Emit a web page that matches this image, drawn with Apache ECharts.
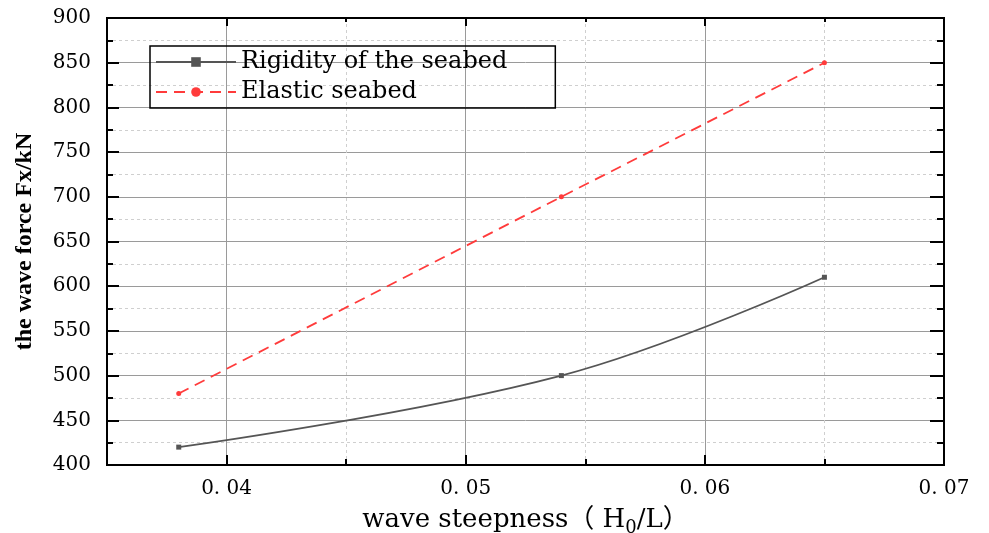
<!DOCTYPE html>
<html>
<head>
<meta charset="utf-8">
<script src="https://cdn.jsdelivr.net/npm/echarts@6/dist/echarts.min.js"></script>
<style>html,body{margin:0;padding:0;background:#fff}#c{width:989px;height:533px}</style>
</head>
<body>
<div id="c"></div>
<script>
const steepness = [0.038, 0.054, 0.065];
const rigidityForce = [420, 500, 610];
const elasticForce = [480, 700, 850];
const xTickValues = [0.04, 0.05, 0.06, 0.07];
const xTickLabels = ['0. 04', '0. 05', '0. 06', '0. 07'];
const seriesNames = ['Rigidity of the seabed', 'Elastic seabed'];

const FONT = '"DejaVu Serif", "Liberation Serif", "Noto Sans CJK SC", serif';
const chart = echarts.init(document.getElementById('c'));

function xLabel(v) {
  for (let i = 0; i < xTickValues.length; i++) {
    if (Math.abs(v - xTickValues[i]) < 1e-9) return xTickLabels[i];
  }
  return '';
}

// grid 1 spans one extra half-interval to the left so its ticks land on 0.04, 0.05 ...
const L = 107, R = 45, T = 18, B = 68;
const plotW = 989 - L - R;
const extraLeft = plotW / 7; // 0.005 of a 0.035-wide range

chart.setOption({
  animation: false,
  backgroundColor: '#fff',
  grid: [
    { left: L, right: R, top: T, bottom: B, show: true, borderColor: '#000', borderWidth: 2,
      backgroundColor: 'transparent', z: 3, containLabel: false, outerBoundsMode: 'none' },
    { left: L - extraLeft, right: R, top: T, bottom: B, containLabel: false, outerBoundsMode: 'none' }
  ],
  legend: {
    orient: 'vertical',
    left: 150, top: 46,
    borderColor: '#000', borderWidth: 1.5,
    padding: [3, 48, 3, 5],
    itemGap: 4,
    itemWidth: 80, itemHeight: 12,
    textStyle: { fontFamily: FONT, fontSize: 24, color: '#000', lineHeight: 26 },
    data: seriesNames
  },
  xAxis: [
    { type: 'value', gridIndex: 0, min: 0.035, max: 0.07,
      axisLine: { show: false }, axisTick: { show: false }, axisLabel: { show: false }, splitLine: { show: false },
      name: 'wave steepness（ H{sub|0}/L）',
      nameLocation: 'middle', nameGap: 38,
      nameTextStyle: { fontFamily: FONT, fontSize: 26, color: '#000', lineHeight: 34,
        rich: { sub: { fontFamily: FONT, fontSize: 18, lineHeight: 18, verticalAlign: 'bottom', color: '#000' } } }
    },
    { type: 'value', gridIndex: 1, position: 'bottom', min: 0.03, max: 0.07, interval: 0.01,
      axisLine: { show: false },
      axisTick: { inside: true, length: 10, lineStyle: { color: '#000', width: 2 } },
      minorTick: { show: true, splitNumber: 2, length: 6, lineStyle: { color: '#000', width: 2 } },
      axisLabel: { formatter: xLabel, margin: 14, fontFamily: FONT, fontSize: 20, color: '#000' },
      splitLine: { show: true, lineStyle: { color: '#9a9a9a', width: 1 } },
      minorSplitLine: { show: true, lineStyle: { color: '#cfcfcf', width: 1, type: [3, 3] } }
    },
    { type: 'value', gridIndex: 1, position: 'top', min: 0.03, max: 0.07, interval: 0.01,
      axisLine: { show: false },
      axisTick: { inside: true, length: 8, lineStyle: { color: '#000', width: 2 } },
      minorTick: { show: true, splitNumber: 2, length: 4, lineStyle: { color: '#000', width: 2 } },
      axisLabel: { show: false }, splitLine: { show: false } }
  ],
  yAxis: [
    { type: 'value', gridIndex: 0, position: 'left', min: 400, max: 900, interval: 50,
      axisLine: { show: false },
      axisTick: { inside: true, length: 12, lineStyle: { color: '#000', width: 2 } },
      minorTick: { show: true, splitNumber: 2, length: 6, lineStyle: { color: '#000', width: 2 } },
      axisLabel: { margin: 16, fontFamily: FONT, fontSize: 20, color: '#000' },
      splitLine: { show: true, showMinLine: false, showMaxLine: false, lineStyle: { color: '#9a9a9a', width: 1 } },
      minorSplitLine: { show: true, lineStyle: { color: '#cfcfcf', width: 1, type: [3, 3] } },
      name: 'the wave force Fx/kN',
      nameLocation: 'middle', nameGap: 70, nameRotate: 90,
      nameTextStyle: { fontFamily: '"Liberation Serif", serif', fontSize: 24, fontWeight: 'bold', color: '#000' }
    },
    { type: 'value', gridIndex: 0, position: 'right', min: 400, max: 900, interval: 50,
      axisLine: { show: false },
      axisTick: { inside: true, length: 14, lineStyle: { color: '#000', width: 2 } },
      minorTick: { show: true, splitNumber: 2, length: 7, lineStyle: { color: '#000', width: 2 } },
      axisLabel: { show: false }, splitLine: { show: false } },
    { type: 'value', gridIndex: 1, min: 0, max: 1, show: false }
  ],
  series: [
    { name: seriesNames[0], type: 'line', xAxisIndex: 0, yAxisIndex: 0,
      data: steepness.map((x, i) => [x, rigidityForce[i]]),
      smooth: 0.4, symbol: 'rect', symbolSize: 5,
      lineStyle: { color: '#555', width: 1.8 }, itemStyle: { color: '#555' }, z: 4 },
    { name: seriesNames[1], type: 'line', xAxisIndex: 0, yAxisIndex: 0,
      data: steepness.map((x, i) => [x, elasticForce[i]]),
      symbol: 'circle', symbolSize: 5,
      lineStyle: { color: '#ff3b3b', width: 1.8, type: [11, 7] }, itemStyle: { color: '#ff3b3b' }, z: 4 }
  ]
});
</script>
</body>
</html>
